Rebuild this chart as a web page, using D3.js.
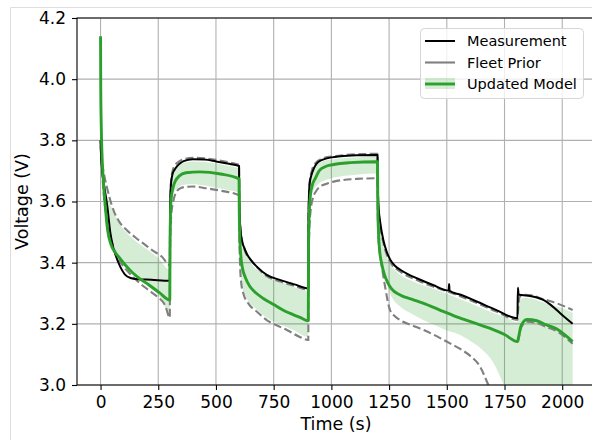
<!DOCTYPE html>
<html>
<head>
<meta charset="utf-8">
<script src="https://cdn.jsdelivr.net/npm/d3@7"></script>
<style>
  html, body { margin: 0; padding: 0; background: #fff; }
  svg { display: block; font-family: "DejaVu Sans", sans-serif; }
</style>
</head>
<body>
<svg id="chart" width="592" height="440"></svg>
<script>
// Measured cell voltage over the drive cycle
const measTime = [0, 3, 6, 12, 20, 30, 42, 55, 65, 85, 105, 130, 160, 220, 300,
  301, 302, 304, 307, 312, 320, 330, 345, 360, 400, 450, 500, 550, 600,
  601, 603, 606, 612, 622, 633, 655, 677, 720, 780, 840, 900,
  901, 903, 906, 915, 925, 937, 960, 980, 1040, 1110, 1200,
  1201, 1203, 1206, 1210, 1225, 1240, 1255, 1275, 1300, 1335, 1370, 1440, 1508, 1510, 1512,
  1560, 1615, 1715, 1806, 1808, 1811, 1825, 1860, 1890, 1918, 1950, 1976, 2010, 2045];
const measVolt = [3.80, 3.74, 3.71, 3.67, 3.63, 3.58, 3.50, 3.45, 3.425, 3.387, 3.362, 3.350, 3.346, 3.344, 3.341,
  3.50, 3.60, 3.645, 3.67, 3.69, 3.703, 3.714, 3.725, 3.732, 3.738, 3.737, 3.731, 3.724, 3.716,
  3.62, 3.55, 3.51, 3.474, 3.45, 3.43, 3.405, 3.387, 3.36, 3.343, 3.329, 3.316,
  3.55, 3.62, 3.66, 3.69, 3.71, 3.725, 3.736, 3.741, 3.748, 3.751, 3.752,
  3.66, 3.60, 3.565, 3.54, 3.474, 3.435, 3.41, 3.39, 3.376, 3.361, 3.349, 3.327, 3.309, 3.330, 3.308,
  3.295, 3.278, 3.245, 3.218, 3.318, 3.296, 3.294, 3.291, 3.286, 3.278, 3.262, 3.245, 3.222, 3.200];

// Fleet prior: upper and lower bounds (null marks a break in the trace)
const priorUpTime = [0, 5, 15, 27, 40, 56, 80, 113, 150, 185, 225, 265, 300,
  301, 303, 306, 312, 322, 335, 360, 400, 450, 500, 550, 600,
  601, 604, 610, 625, 650, 680, 720, 780, 840, 900,
  901, 903, 907, 915, 930, 960, 1000, 1060, 1130, 1200,
  1201, 1204, 1210, 1225, 1255, 1300, 1370, 1440, 1510, 1615, 1715, 1806,
  1810, 1816, 1830, 1870, 1904, 1940, 1977, 2010, 2045];
const priorUpVolt = [3.80, 3.74, 3.69, 3.648, 3.61, 3.572, 3.535, 3.507, 3.483, 3.463, 3.44, 3.42, 3.392,
  3.52, 3.62, 3.67, 3.70, 3.718, 3.728, 3.738, 3.743, 3.741, 3.736, 3.729, 3.72,
  3.62, 3.54, 3.49, 3.44, 3.41, 3.383, 3.356, 3.338, 3.324, 3.311,
  3.55, 3.62, 3.67, 3.70, 3.725, 3.74, 3.747, 3.752, 3.755, 3.756,
  3.65, 3.58, 3.53, 3.466, 3.402, 3.37, 3.343, 3.322, 3.304, 3.273, 3.24, 3.213,
  3.26, 3.288, 3.295, 3.293, 3.284, 3.276, 3.267, 3.257, 3.245];
const priorLowTime = [0, 5, 12, 20, 27, 40, 55, 75, 100, 135, 170, 205, 245, 280, 300,
  301, 303, 307, 315, 330, 345, 370, 400, 460, 530, 600,
  601, 604, 610, 620, 640, 680, 720, 760, 807, 861, 900,
  901, 904, 910, 922, 935, 950, 980, 1010, 1110, 1200,
  1201, 1205, 1212, 1218, 1233, 1254, 1275, 1298, 1350, 1399, 1460, 1514, 1560, 1600, 1644, 1680, 1720, 1760, 1806,
  1807, 1808, 1812, 1820, 1830, 1847, 1890, 1930, 1977, 2010, 2045];
const priorLowVolt = [3.78, 3.72, 3.64, 3.58, 3.54, 3.49, 3.452, 3.415, 3.387, 3.358, 3.333, 3.312, 3.289, 3.26, 3.22,
  3.40, 3.50, 3.56, 3.60, 3.633, 3.643, 3.648, 3.649, 3.643, 3.634, 3.62,
  3.50, 3.40, 3.33, 3.296, 3.267, 3.238, 3.212, 3.196, 3.18, 3.158, 3.147,
  3.38, 3.50, 3.57, 3.616, 3.635, 3.648, 3.658, 3.665, 3.674, 3.676,
  3.56, 3.47, 3.42, 3.39, 3.32, 3.245, 3.225, 3.212, 3.195, 3.18, 3.158, 3.136, 3.117, 3.096, 3.06, 3.0, 2.93, 2.84, 2.76,
  null, 3.14, 3.155, 3.183, 3.198, 3.207, 3.203, 3.19, 3.176, 3.158, 3.135];

// Updated model: mean prediction
const modelTime = [0, 1, 3, 6, 12, 20, 30, 45, 60, 80, 110, 140, 175, 210, 255, 300,
  301, 303, 306, 315, 325, 340, 370, 430, 520, 600,
  601, 604, 608, 614, 626, 648, 675, 705, 750, 790, 864, 900,
  901, 904, 909, 918, 930, 950, 995, 1080, 1200,
  1201, 1204, 1209, 1217, 1230, 1244, 1260, 1298, 1350, 1400, 1470, 1543, 1615, 1688, 1750, 1806,
  1812, 1820, 1830, 1847, 1890, 1930, 1977, 2010, 2045];
const modelVolt = [4.14, 3.96, 3.85, 3.76, 3.67, 3.59, 3.51, 3.46, 3.437, 3.418, 3.39, 3.366, 3.345, 3.327, 3.302, 3.278,
  3.45, 3.56, 3.61, 3.648, 3.668, 3.683, 3.694, 3.697, 3.69, 3.674,
  3.56, 3.47, 3.42, 3.385, 3.354, 3.321, 3.30, 3.283, 3.263, 3.245, 3.221, 3.21,
  3.45, 3.56, 3.62, 3.655, 3.675, 3.703, 3.719, 3.727, 3.73,
  3.60, 3.50, 3.44, 3.40, 3.36, 3.335, 3.315, 3.294, 3.28, 3.267, 3.245, 3.223, 3.204, 3.185, 3.165, 3.142,
  3.16, 3.19, 3.205, 3.214, 3.21, 3.197, 3.183, 3.165, 3.142];

// Updated model: uncertainty band
const bandTime = [0, 3, 6, 12, 20, 30, 45, 60, 80, 110, 150, 200, 250, 300,
  301, 303, 306, 312, 320, 335, 360, 400, 450, 500, 550, 600,
  601, 604, 608, 615, 625, 640, 660, 690, 730, 780, 840, 900,
  901, 904, 908, 915, 925, 940, 960, 1000, 1060, 1130, 1200,
  1201, 1204, 1209, 1216, 1225, 1240, 1260, 1300, 1350, 1400, 1450, 1500, 1550, 1600, 1650, 1700, 1750, 1806,
  1810, 1816, 1825, 1840, 1870, 1910, 1960, 2000, 2045];
const bandHigh = [4.145, 3.86, 3.77, 3.68, 3.64, 3.615, 3.585, 3.56, 3.53, 3.50, 3.472, 3.445, 3.415, 3.376,
  3.50, 3.60, 3.655, 3.688, 3.706, 3.717, 3.726, 3.731, 3.729, 3.724, 3.717, 3.708,
  3.60, 3.53, 3.49, 3.46, 3.44, 3.415, 3.39, 3.37, 3.35, 3.335, 3.32, 3.305,
  3.55, 3.63, 3.665, 3.69, 3.708, 3.722, 3.73, 3.737, 3.742, 3.745, 3.746,
  3.64, 3.57, 3.52, 3.49, 3.455, 3.42, 3.39, 3.36, 3.34, 3.325, 3.312, 3.298, 3.283, 3.268, 3.252, 3.236, 3.222, 3.205,
  3.25, 3.276, 3.283, 3.285, 3.282, 3.272, 3.26, 3.252, 3.236];
const bandLow = [4.135, 3.83, 3.73, 3.645, 3.59, 3.53, 3.48, 3.448, 3.42, 3.39, 3.36, 3.326, 3.295, 3.238,
  3.42, 3.51, 3.57, 3.61, 3.632, 3.645, 3.655, 3.656, 3.652, 3.645, 3.638, 3.628,
  3.51, 3.42, 3.36, 3.315, 3.295, 3.275, 3.258, 3.238, 3.215, 3.198, 3.178, 3.157,
  3.40, 3.52, 3.58, 3.62, 3.64, 3.655, 3.665, 3.676, 3.684, 3.689, 3.692,
  3.58, 3.50, 3.45, 3.41, 3.37, 3.33, 3.29, 3.255, 3.232, 3.212, 3.195, 3.178, 3.166, 3.145, 3.118, 3.075, 2.995, 2.90,
  2.88, 2.87, 2.86, 2.85, 2.84, 2.83, 2.82, 2.81, 2.80];

const xTicks = [0, 250, 500, 750, 1000, 1250, 1500, 1750, 2000];
const yTicks = [3.0, 3.2, 3.4, 3.6, 3.8, 4.0, 4.2];
const legendLabels = ["Measurement", "Fleet Prior", "Updated Model"];

const GREEN = "#2ca02c", GREY = "#808080";
const svg = d3.select("#chart");
const plot = { left: 77, right: 595, top: 18, bottom: 385 };

const x = d3.scaleLinear().domain([-102, 2142]).range([plot.left, plot.right]);
const y = d3.scaleLinear().domain([3.0, 4.2]).range([plot.bottom, plot.top]);

// figure outline
svg.append("path")
  .attr("d", "M10.5,440 V7.5 H592")
  .attr("fill", "none").attr("stroke", "#dedede").attr("stroke-width", 1);

svg.append("defs").append("clipPath").attr("id", "plotClip")
  .append("rect")
  .attr("x", plot.left).attr("y", plot.top)
  .attr("width", plot.right - plot.left).attr("height", plot.bottom - plot.top);

// grid
const grid = svg.append("g").attr("stroke", "#b0b0b0").attr("stroke-width", 1.1);
grid.selectAll(".gx").data(xTicks).join("line")
  .attr("x1", d => x(d)).attr("x2", d => x(d))
  .attr("y1", plot.top).attr("y2", plot.bottom);
grid.selectAll(".gy").data(yTicks).join("line")
  .attr("x1", plot.left).attr("x2", plot.right)
  .attr("y1", d => y(d)).attr("y2", d => y(d));

const data = svg.append("g").attr("clip-path", "url(#plotClip)");
const pairs = (ts, vs) => ts.map((t, i) => [t, vs[i]]);
const line = d3.line()
  .defined(d => d[1] != null)
  .x(d => x(d[0])).y(d => y(d[1]))
  .curve(d3.curveMonotoneX);

// model uncertainty band
const area = d3.area()
  .x(d => x(d.t)).y0(d => y(d.lo)).y1(d => y(d.hi))
  .curve(d3.curveMonotoneX);
data.append("path")
  .datum(bandTime.map((t, i) => ({ t, hi: bandHigh[i], lo: bandLow[i] })))
  .attr("d", area)
  .attr("fill", GREEN).attr("fill-opacity", 0.2);

// prior bounds
[[priorUpTime, priorUpVolt], [priorLowTime, priorLowVolt]].forEach(([ts, vs]) => {
  data.append("path").datum(pairs(ts, vs)).attr("d", line)
    .attr("fill", "none").attr("stroke", GREY).attr("stroke-width", 2.1)
    .attr("stroke-dasharray", "8,3.5");
});

// measurement
data.append("path").datum(pairs(measTime, measVolt)).attr("d", line)
  .attr("fill", "none").attr("stroke", "#000").attr("stroke-width", 2)
  .attr("stroke-linejoin", "round");

// model mean
data.append("path").datum(pairs(modelTime, modelVolt)).attr("d", line)
  .attr("fill", "none").attr("stroke", GREEN).attr("stroke-width", 2.9)
  .attr("stroke-linejoin", "round");

// axes
const xAxis = svg.append("g").attr("transform", `translate(0,${plot.bottom})`)
  .call(d3.axisBottom(x).tickValues(xTicks).tickSize(5).tickPadding(6).tickFormat(d3.format("d")));
const yAxis = svg.append("g").attr("transform", `translate(${plot.left},0)`)
  .call(d3.axisLeft(y).tickValues(yTicks).tickSize(5).tickPadding(6).tickFormat(d3.format(".1f")));
[xAxis, yAxis].forEach(a => {
  a.select(".domain").remove();
  a.selectAll(".tick line").attr("stroke", "#000").attr("stroke-width", 1.1);
  a.selectAll(".tick text").attr("fill", "#000")
    .style("font-size", "17px").style("font-family", "DejaVu Sans, sans-serif");
});

// frame
svg.append("path")
  .attr("d", `M${plot.right},${plot.top} H${plot.left} V${plot.bottom} H${plot.right}`)
  .attr("fill", "none").attr("stroke", "#000").attr("stroke-width", 1.1);

// axis titles
svg.append("text").attr("x", (plot.left + plot.right) / 2).attr("y", 430)
  .attr("text-anchor", "middle").style("font-size", "17.5px").text("Time (s)");
svg.append("text").attr("transform", `translate(28,${(plot.top + plot.bottom) / 2}) rotate(-90)`)
  .attr("text-anchor", "middle").style("font-size", "17.5px").text("Voltage (V)");

// legend
const lg = svg.append("g").attr("transform", "translate(420,28)");
lg.append("rect").attr("x", 0.5).attr("y", 0.5).attr("width", 163).attr("height", 70)
  .attr("rx", 4).attr("fill", "#fff").attr("fill-opacity", 0.8)
  .attr("stroke", "#d6d6d6").attr("stroke-width", 1);
const rowY = [13, 34.5, 56];
lg.append("line").attr("x1", 5).attr("x2", 35).attr("y1", rowY[0]).attr("y2", rowY[0])
  .attr("stroke", "#000").attr("stroke-width", 2);
lg.append("line").attr("x1", 5).attr("x2", 35).attr("y1", rowY[1]).attr("y2", rowY[1])
  .attr("stroke", GREY).attr("stroke-width", 2.1);
lg.append("rect").attr("x", 5).attr("y", rowY[2] - 6).attr("width", 30).attr("height", 11)
  .attr("fill", GREEN).attr("fill-opacity", 0.2);
lg.append("line").attr("x1", 5).attr("x2", 35).attr("y1", rowY[2]).attr("y2", rowY[2])
  .attr("stroke", GREEN).attr("stroke-width", 2.9);
lg.selectAll(".lt").data(legendLabels).join("text")
  .attr("x", 47).attr("y", (d, i) => rowY[i]).attr("dy", "0.36em")
  .style("font-size", "14.5px").text(d => d);
</script>
</body>
</html>
